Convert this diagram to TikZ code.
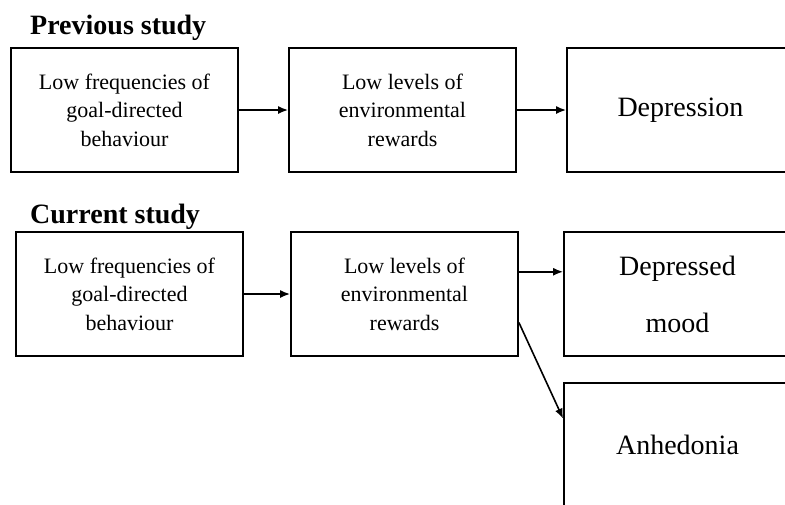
\documentclass[tikz,border=0pt]{standalone}
\usepackage{fontspec}
\setmainfont{Liberation Serif}
\usetikzlibrary{arrows.meta}

\begin{document}
\begin{tikzpicture}[x=1pt, y=-1pt,
	studybox/.style={shape=rectangle, draw, line width=1.8pt, inner sep=0pt,
		minimum width=227pt, minimum height=124pt, align=center},
	smalltext/.style={font=\fontsize{22}{28.5}\selectfont},
	bigtext/.style={font=\fontsize{28}{57}\selectfont},
	heading/.style={anchor=base west, inner sep=0pt,
		font=\fontsize{28}{30}\bfseries\selectfont},
	link/.style={-{Latex[length=10pt, width=8pt]}, line width=1.6pt}]
	\useasboundingbox (0, 0) rectangle (785, 504);
	\clip (0, 0) rectangle (785, 504);

	% Previous study:
	\node[heading] (prevTitle) at (30, 34){Previous study};
	\node[studybox, smalltext] (prevFreq) at (124.5, 110)
	{Low frequencies of\\goal-directed\\behaviour};
	\node[studybox, smalltext] (prevRew) at (402.5, 110)
	{Low levels of\\environmental\\rewards};
	\node[studybox, bigtext] (prevDep) at (680.5, 110){Depression};
	\draw[link] (prevFreq) -- (prevRew);
	\draw[link] (prevRew) -- (prevDep);

	% Current study:
	\node[heading] (curTitle) at (30, 223){Current study};
	\node[studybox, smalltext] (curFreq) at (129.5, 294)
	{Low frequencies of\\goal-directed\\behaviour};
	\node[studybox, smalltext] (curRew) at (404.5, 294)
	{Low levels of\\environmental\\rewards};
	\node[studybox, bigtext] (curMood) at (677.5, 294){Depressed\\mood};
	\node[studybox, bigtext] (curAnh) at (677.5, 445){Anhedonia};
	\draw[link] (curFreq) -- (curRew);
	% horizontal link, a bit above the centre line
	\draw[link] (curRew.11.5) -- (curRew.11.5 -| curMood.west);
	\draw[link] (curRew.-14) -- (curAnh.167.6);
\end{tikzpicture}
\end{document}
